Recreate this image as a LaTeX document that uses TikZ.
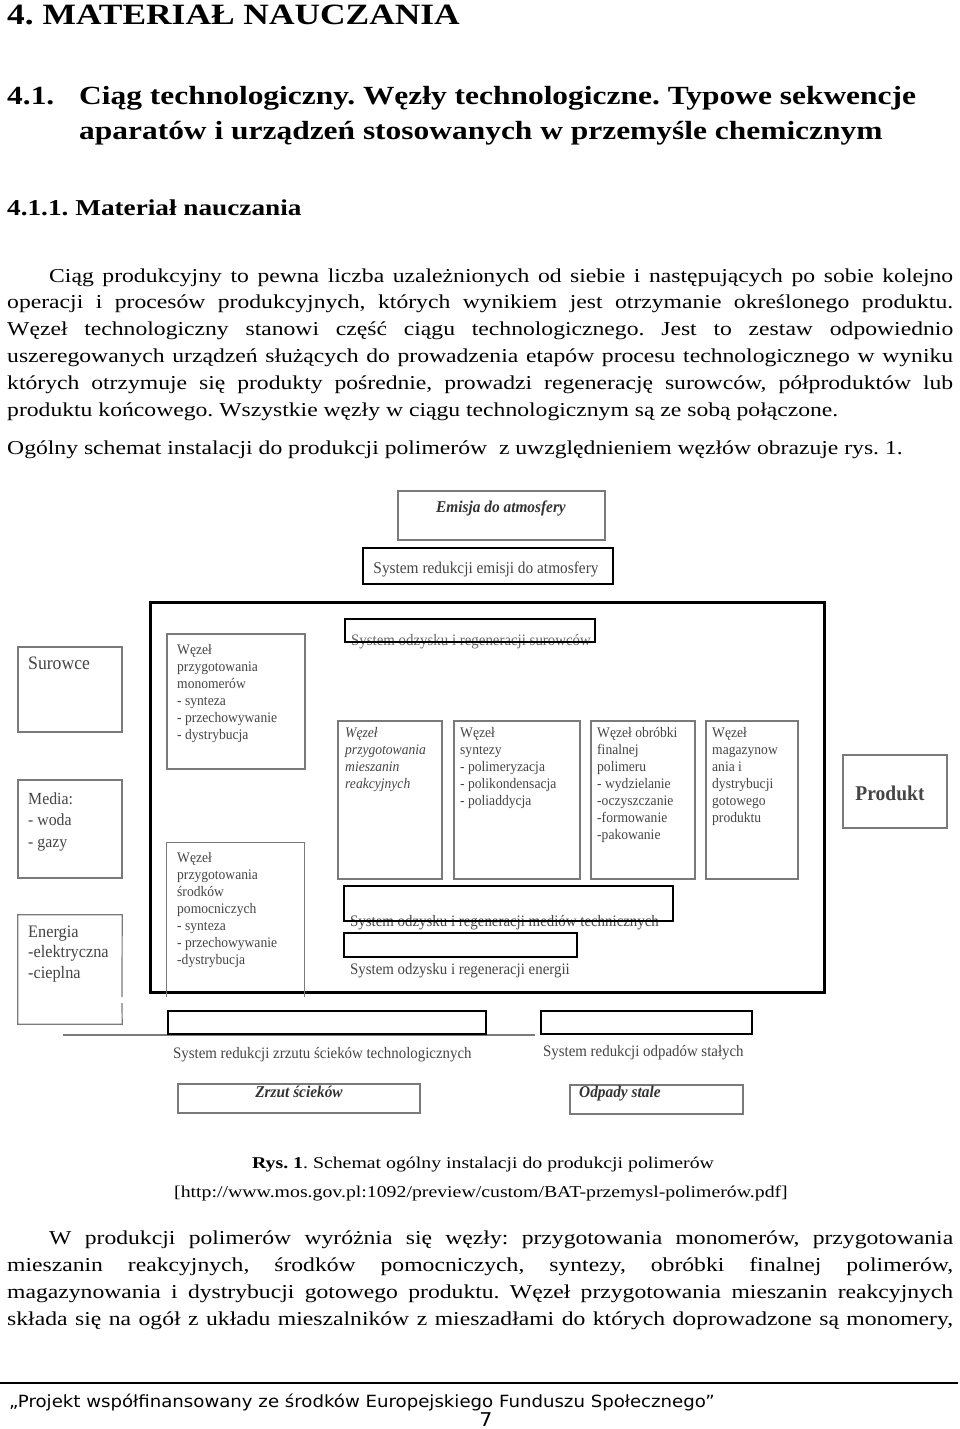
\documentclass[tikz,border=0pt]{standalone}
\usepackage{fontspec}
\setmainfont{Liberation Serif}[FakeStretch=1.2]
\newfontfamily\dgf{Liberation Serif}[FakeStretch=0.93]
\newfontfamily\footf{DejaVu Sans}[FakeStretch=1.08]
\usetikzlibrary{fit}
\frenchspacing
\definecolor{txtgray}{HTML}{454545}
\definecolor{boxgray}{HTML}{7A7A7A}
\newcommand\fs[2]{\fontsize{#1}{#2}\selectfont}
\newcommand\tl[1]{\begin{tabular}[t]{@{}l@{}}#1\end{tabular}}
\newcommand\jl[1]{\hbox to 946pt{#1}}
\tikzset{
  thinbox/.style={draw=boxgray, line width=1.2pt, inner sep=0pt},
  thickbox/.style={draw=black, line width=2.4pt, inner sep=0pt},
  bigframe/.style={draw=black, line width=3pt, inner sep=0pt},
  openbox/.style={draw=none, inner sep=0pt},
  edge/.style={draw=boxgray, line width=1.2pt},
  dtext/.style={inner sep=0pt, anchor=base west, text=txtgray},
  ptext/.style={inner sep=0pt, anchor=base west, text=black},
  body/.style={ptext, font=\fs{19.7}{27}},
  wz/.style={dtext, font=\dgf\fs{14.6}{17}},
  res/.style={inner sep=0pt, anchor=base, text=black!80, font=\dgf\fs{16.5}{20}\bfseries\itshape},
}
\begin{document}
\begin{tikzpicture}[x=1pt,y=-1pt]
\fill[white] (0,0) rectangle (960,1429);
\useasboundingbox (0,0) rectangle (960,1429);

% headings
\node[ptext, font=\fs{29.5}{35}\bfseries] (h1) at (7,25) {4. MATERIAŁ NAUCZANIA};
\node[ptext, font=\fs{26.2}{35}\bfseries] (h2a) at (7,104) {4.1.};
\node[ptext, font=\fs{26.2}{35}\bfseries] (h2b) at (79,104) {Ciąg technologiczny. Węzły technologiczne. Typowe sekwencje};
\node[ptext, font=\fs{26.2}{35}\bfseries] (h2c) at (79,139) {aparatów i urządzeń stosowanych w przemyśle chemicznym};
\node[ptext, font=\fs{22.7}{30}\bfseries] (h3) at (7,215) {4.1.1. Materiał nauczania};

% paragraph 1
\node[body] (p1) at (7,282) {\jl{\hspace{42pt}Ciąg produkcyjny to pewna liczba uzależnionych od siebie i następujących po sobie kolejno}};
\node[body] (p2) at (7,308) {\jl{operacji i procesów produkcyjnych, których wynikiem jest otrzymanie określonego produktu.}};
\node[body] (p3) at (7,335) {\jl{Węzeł technologiczny stanowi część ciągu technologicznego. Jest to zestaw odpowiednio}};
\node[body] (p4) at (7,362) {\jl{uszeregowanych urządzeń służących do prowadzenia etapów procesu technologicznego w wyniku}};
\node[body] (p5) at (7,389) {\jl{których otrzymuje się produkty pośrednie, prowadzi regenerację surowców, półproduktów lub}};
\node[body] (p6) at (7,416) {produktu końcowego. Wszystkie węzły w ciągu technologicznym są ze sobą połączone.};
\node[body] (p7) at (7,454) {Ogólny schemat instalacji do produkcji polimerów\ \ z uwzględnieniem węzłów obrazuje rys. 1.};

% ---------- diagram ----------
\node[thinbox, fit={(398,491) (605,540)}] (emisja) {};
\node[res] (emisjat) at (501,512) {Emisja do atmosfery};
\node[thickbox, fit={(363,548) (613,584)}] (redem) {};
\node[dtext, anchor=base, font=\dgf\fs{16.5}{20}] (redemt) at (486,573) {System redukcji emisji do atmosfery};

\node[bigframe, fit={(150,602) (824,992)}] (frame) {};

\node[dtext, font=\dgf\fs{16}{20}, text=black!60] (surt) at (351,645) {System odzysku i regeneracji surowców};
\node[thickbox, fit={(345,619) (595,642)}] (sur) {};

% left inputs
\node[thinbox, fit={(18,647) (122,732)}] (surowce) {};
\node[dtext, font=\dgf\fs{19}{22}] (surowcet) at (28,669) {Surowce};
\node[thinbox, fit={(18,780) (122,878)}] (media) {};
\node[dtext, font=\dgf\fs{17}{21.5}] (mediat) at (28,804) {\tl{Media:\\- woda\\- gazy}};
\node[openbox, fit={(18,915) (122,1024)}] (energia) {};
\draw[edge] (122,997) -- (energia.north east) -- (energia.north west) -- (energia.south west) -- (energia.south east) -- (122,1003);
\node[dtext, font=\dgf\fs{17.5}{20.5}] (energiat) at (28,937) {\tl{Energia\\-elektryczna\\-cieplna}};

% nodes inside the frame
\node[thinbox, fit={(167,634) (305,769)}] (wmono) {};
\node[wz] (wmonot) at (177,654) {\tl{Węzeł\\przygotowania\\monomerów\\- synteza\\- przechowywanie\\- dystrybucja}};
\node[openbox, fit={(167,843) (304,997)}] (wsrod) {};
\draw[edge] (wsrod.south west) -- (wsrod.north west) -- (wsrod.north east) -- (wsrod.south east);
\node[wz] (wsrodt) at (177,862) {\tl{Węzeł\\przygotowania\\środków\\pomocniczych\\- synteza\\- przechowywanie\\-dystrybucja}};

\node[thinbox, fit={(338,721) (442,879)}] (wmies) {};
\node[wz, font=\dgf\fs{14.6}{17}\itshape] (wmiest) at (345,737) {\tl{Węzeł\\przygotowania\\mieszanin\\reakcyjnych}};
\node[thinbox, fit={(454,721) (580,879)}] (wsyn) {};
\node[wz] (wsynt) at (460,737) {\tl{Węzeł\\syntezy\\- polimeryzacja\\- polikondensacja\\- poliaddycja}};
\node[thinbox, fit={(591,721) (695,879)}] (wobr) {};
\node[wz] (wobrt) at (597,737) {\tl{Węzeł obróbki\\finalnej\\polimeru\\- wydzielanie\\-oczyszczanie\\-formowanie\\-pakowanie}};
\node[thinbox, fit={(706,721) (798,879)}] (wmag) {};
\node[wz] (wmagt) at (712,737) {\tl{Węzeł\\magazynow\\ania i\\dystrybucji\\gotowego\\produktu}};

\node[dtext, font=\dgf\fs{16}{20}] (medt) at (350,926) {System odzysku i regeneracji mediów technicznych};
\node[thickbox, fit={(344,886) (673,921)}] (med) {};
\node[thickbox, fit={(344,933) (577,957)}] (ene) {};
\node[dtext, font=\dgf\fs{16}{20}] (enet) at (350,974) {System odzysku i regeneracji energii};

% product
\node[thinbox, fit={(843,755) (947,828)}] (produkt) {};
\node[inner sep=0pt, anchor=base, text=txtgray, font=\dgf\fs{21}{24}\bfseries] (produktt) at (890,800) {Produkt};

% bottom reduction systems
\coordinate (ll) at (63,1035);
\coordinate (lr) at (535,1035);
\draw[edge] (ll) -- (lr);
\node[thickbox, fit={(168,1011) (486,1034)}] (redscie) {};
\node[thickbox, fit={(541,1011) (752,1034)}] (redodp) {};
\node[dtext, font=\dgf\fs{16}{20}] (redsciet) at (173,1058) {System redukcji zrzutu ścieków technologicznych};
\node[dtext, font=\dgf\fs{16}{20}] (redodpt) at (543,1056) {System redukcji odpadów stałych};
\node[thinbox, fit={(178,1084) (420,1113)}] (zrzut) {};
\node[res] (zrzutt) at (299,1097) {Zrzut ścieków};
\node[thinbox, fit={(570,1085) (743,1114)}] (odpady) {};
\node[res, anchor=base west] (odpadyt) at (579,1097) {Odpady stale};

% caption
\node[inner sep=0pt, anchor=base, font=\fs{16.5}{20}] (cap1) at (483,1168) {\textbf{Rys. 1}. Schemat ogólny instalacji do produkcji polimerów};
\node[inner sep=0pt, anchor=base, font=\fs{16.5}{20}] (cap2) at (481,1197) {[http://www.mos.gov.pl:1092/preview/custom/BAT-przemysl-polimerów.pdf]};

% paragraph 2
\node[body] (q1) at (7,1244) {\jl{\hspace{42pt}W produkcji polimerów wyróżnia się węzły: przygotowania monomerów, przygotowania}};
\node[body] (q2) at (7,1271) {\jl{mieszanin reakcyjnych, środków pomocniczych, syntezy, obróbki finalnej polimerów,}};
\node[body] (q3) at (7,1298) {\jl{magazynowania i dystrybucji gotowego produktu. Węzeł przygotowania mieszanin reakcyjnych}};
\node[body] (q4) at (7,1325) {\jl{składa się na ogół z układu mieszalników z mieszadłami do których doprowadzone są monomery,}};

% footer
\coordinate (fl) at (0,1383);
\coordinate (fr) at (958,1383);
\draw[line width=1.2pt] (fl) -- (fr);
\node[ptext, font=\footf\fs{16.8}{20}] (foot) at (9,1407) {„Projekt współfinansowany ze środków Europejskiego Funduszu Społecznego”};
\node[inner sep=0pt, anchor=base, font=\footf\fs{19}{22}] (pnum) at (486,1426) {7};
\end{tikzpicture}
\end{document}
